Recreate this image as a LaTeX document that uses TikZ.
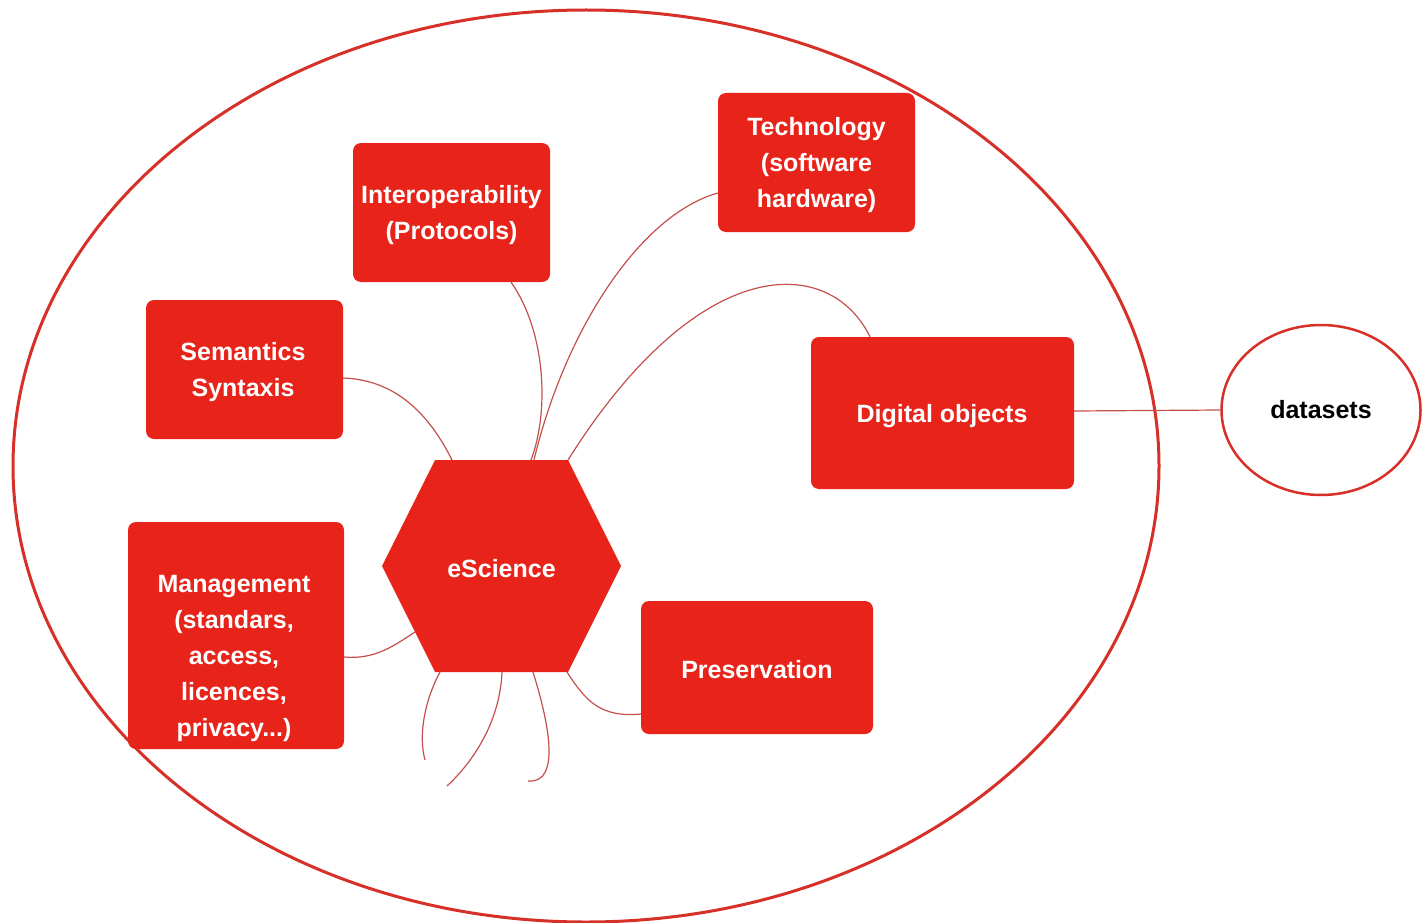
\documentclass[tikz,border=0pt]{standalone}
\usepackage{fontspec}
\setmainfont{Liberation Sans}
\usetikzlibrary{shapes.geometric}
\definecolor{boxred}{RGB}{231,35,26}
\definecolor{rimred}{RGB}{214,48,40}
\definecolor{linkred}{RGB}{196,80,76}
\tikzset{
  redbox/.style={fill=boxred, draw=none, rounded corners=8pt, inner sep=0pt},
  lbl/.style={text=white, font=\bfseries\fontsize{25}{36}\selectfont, align=center, inner sep=0pt},
  link/.style={draw=linkred, line width=1.2pt},
  rim/.style={draw=rimred, line width=3pt}
}
\begin{document}
\begin{tikzpicture}[x=1pt,y=-1pt]
\useasboundingbox (0,0) rectangle (1426,923);
% big ellipse
\draw[rim] (586,466) ellipse [x radius=573, y radius=456];

% boxes
\node[redbox, minimum width=197pt, minimum height=139pt] (interop) at (451.5,212.5) {};
\node[lbl] (interoptext) at (451.5,215) {Interoperability\\(Protocols)};
\node[redbox, minimum width=197pt, minimum height=139pt] (tech) at (816.5,162.5) {};
\node[lbl] (techtext) at (816.5,165) {Technology\\(software\\hardware)};
\node[redbox, minimum width=197pt, minimum height=139pt] (sem) at (244.5,369.5) {};
\node[lbl] (semtext) at (243,372) {Semantics\\Syntaxis};
\node[redbox, minimum width=263pt, minimum height=152pt] (digital) at (942.5,413) {};
\node[lbl] (digitaltext) at (942,416) {Digital objects};
\node[redbox, minimum width=216pt, minimum height=227pt] (mgmt) at (236,635.5) {};
\node[lbl] (mgmttext) at (234,658) {Management\\(standars,\\access,\\licences,\\privacy...)};
\node[redbox, minimum width=232pt, minimum height=133pt] (pres) at (757,667.5) {};
\node[lbl] (prestext) at (757,670) {Preservation};

% hexagon
\fill[boxred] (435,460) -- (568,460) -- (621,566) -- (568,672) -- (435,672) -- (382,566) -- cycle;
\node[lbl] (hex) at (501.5,569) {eScience};
\coordinate (hA) at (452,460);
\coordinate (hB) at (531,460);
\coordinate (hC) at (534,460);
\coordinate (hD) at (568,460);
\coordinate (hE) at (415,632);
\coordinate (hF) at (567,672);
\coordinate (hG) at (440,672);
\coordinate (hH) at (502,672);
\coordinate (hI) at (533,672);
\coordinate (eG) at (425,760);
\coordinate (eH) at (447,786);
\coordinate (eI) at (528,781);

% datasets
\node[ellipse, draw=rimred, line width=2.5pt, minimum width=199pt, minimum height=170pt, fill=white,
      font=\bfseries\fontsize{25}{30}\selectfont] (data) at (1321,410) {datasets};

% connectors
\draw[link] (sem.east |- 0,378) .. controls (400,380) and (432,420) .. (hA);
\draw[link] (interop.south -| 511,0) .. controls (545,330) and (550,410) .. (hB);
\draw[link] (tech.west |- 0,193) .. controls (640,215) and (565,330) .. (hC);
\draw[link] (digital.north -| 870,0) .. controls (830,255) and (700,250) .. (hD);
\draw[link] (digital.east |- 0,411) -- (data.west);
\draw[link] (mgmt.east |- 0,657) .. controls (375,660) and (395,645) .. (hE);
\draw[link] (pres.west |- 0,714) .. controls (600,718) and (585,700) .. (hF);
\draw[link] (hG) .. controls (425,700) and (418,735) .. (eG);
\draw[link] (hH) .. controls (500,720) and (475,760) .. (eH);
\draw[link] (hI) .. controls (548,720) and (562,784) .. (eI);
\end{tikzpicture}
\end{document}
